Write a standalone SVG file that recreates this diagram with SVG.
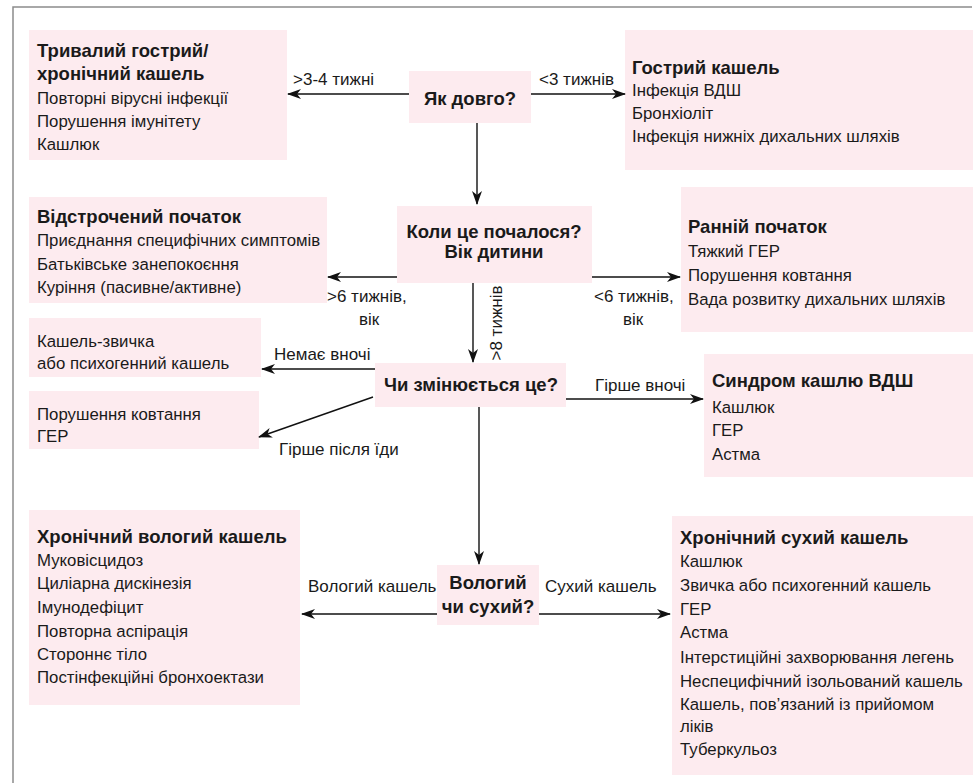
<svg xmlns="http://www.w3.org/2000/svg" width="977" height="783" viewBox="0 0 977 783">
<defs>
<marker id="ah" markerWidth="14" markerHeight="10" refX="13" refY="5" orient="auto" markerUnits="userSpaceOnUse">
<path d="M0,0 L14,5 L0,10 L4,5 z" fill="#111"/>
</marker>
<style>
.box{fill:#fdebef}
text{font-family:"Liberation Sans",Arial,sans-serif;font-size:16.8px;fill:#1a1a1a}
.b{font-weight:bold;font-size:18.5px}
.c{text-anchor:middle}
.lb{font-size:17px}
.ln{stroke:#111;stroke-width:1.4;fill:none;marker-end:url(#ah)}
.frame{stroke:#8c8c8c;stroke-width:1.5;fill:none}
</style>
</defs>
<rect width="977" height="783" fill="#fff"/>
<path class="frame" d="M13,783 L13,7 L972,7"/>

<g id="n-long">
<rect class="box" x="29" y="30" width="258" height="130"/>
<text x="37" y="57" class="b">Тривалий гострий/</text>
<text x="37" y="80" class="b">хронічний кашель</text>
<text x="37" y="104">Повторні вірусні інфекції</text>
<text x="37" y="127">Порушення імунітету</text>
<text x="37" y="150">Кашлюк</text>
</g>
<g id="n-howlong">
<rect class="box" x="409" y="71" width="122" height="52"/>
<text x="470" y="105" class="b c">Як довго?</text>
</g>
<g id="n-acute">
<rect class="box" x="625" y="30" width="348" height="140"/>
<text x="632" y="74" class="b">Гострий кашель</text>
<text x="632" y="96">Інфекція ВДШ</text>
<text x="632" y="119">Бронхіоліт</text>
<text x="632" y="142">Інфекція нижніх дихальних шляхів</text>
</g>
<g id="n-delayed">
<rect class="box" x="29" y="197" width="298" height="106"/>
<text x="37" y="223" class="b">Відстрочений початок</text>
<text x="37" y="246">Приєднання специфічних симптомів</text>
<text x="37" y="270">Батьківське занепокоєння</text>
<text x="37" y="293">Куріння (пасивне/активне)</text>
</g>
<g id="n-when">
<rect class="box" x="397" y="206" width="195" height="77"/>
<text x="494" y="238" class="b c">Коли це почалося?</text>
<text x="494" y="258" class="b c">Вік дитини</text>
</g>
<g id="n-early">
<rect class="box" x="681" y="187" width="292" height="145"/>
<text x="688" y="233" class="b">Ранній початок</text>
<text x="688" y="257">Тяжкий ГЕР</text>
<text x="688" y="281">Порушення ковтання</text>
<text x="688" y="305">Вада розвитку дихальних шляхів</text>
</g>
<g id="n-habit">
<rect class="box" x="29" y="318" width="232" height="59"/>
<text x="37" y="347">Кашель-звичка</text>
<text x="37" y="369">або психогенний кашель</text>
</g>
<g id="n-swallow">
<rect class="box" x="29" y="391" width="230" height="58"/>
<text x="37" y="420">Порушення ковтання</text>
<text x="37" y="442">ГЕР</text>
</g>
<g id="n-change">
<rect class="box" x="375" y="363" width="191" height="44"/>
<text x="471" y="391" class="b c">Чи змінюється це?</text>
</g>
<g id="n-uacs">
<rect class="box" x="704" y="354" width="269" height="123"/>
<text x="712" y="387" class="b">Синдром кашлю ВДШ</text>
<text x="712" y="413">Кашлюк</text>
<text x="712" y="436">ГЕР</text>
<text x="712" y="460">Астма</text>
</g>
<g id="n-wet">
<rect class="box" x="29" y="510" width="271" height="195"/>
<text x="37" y="543" class="b">Хронічний вологий кашель</text>
<text x="37" y="566">Муковісцидоз</text>
<text x="37" y="589">Циліарна дискінезія</text>
<text x="37" y="613">Імунодефіцит</text>
<text x="37" y="637">Повторна аспірація</text>
<text x="37" y="660">Стороннє тіло</text>
<text x="37" y="683">Постінфекційні бронхоектази</text>
</g>
<g id="n-wetdry">
<rect class="box" x="437" y="565" width="102" height="60"/>
<text x="488" y="589" class="b c">Вологий</text>
<text x="488" y="613" class="b c">чи сухий?</text>
</g>
<g id="n-dry">
<rect class="box" x="672" y="516" width="301" height="259"/>
<text x="680" y="544" class="b">Хронічний сухий кашель</text>
<text x="680" y="567">Кашлюк</text>
<text x="680" y="591">Звичка або психогенний кашель</text>
<text x="680" y="615">ГЕР</text>
<text x="680" y="638">Астма</text>
<text x="680" y="663">Інтерстиційні захворювання легень</text>
<text x="680" y="687">Неспецифічний ізольований кашель</text>
<text x="680" y="710">Кашель, пов’язаний із прийомом</text>
<text x="680" y="732">ліків</text>
<text x="680" y="755">Туберкульоз</text>
</g>

<g id="connectors">
<line class="ln" x1="409" y1="94" x2="288" y2="94"/>
<line class="ln" x1="531" y1="94" x2="625" y2="94"/>
<line class="ln" x1="477" y1="123" x2="477" y2="204"/>
<line class="ln" x1="397" y1="277" x2="328" y2="277"/>
<line class="ln" x1="592" y1="277" x2="680" y2="277"/>
<line class="ln" x1="473" y1="283" x2="473" y2="362"/>
<line class="ln" x1="375" y1="369" x2="262" y2="369"/>
<line class="ln" x1="373" y1="397" x2="259" y2="437"/>
<line class="ln" x1="566" y1="399" x2="703" y2="399"/>
<line class="ln" x1="479" y1="407" x2="479" y2="564"/>
<line class="ln" x1="437" y1="614" x2="302" y2="614"/>
<line class="ln" x1="539" y1="614" x2="670" y2="614"/>
<text class="lb" x="293" y="85">&gt;3-4 тижні</text>
<text class="lb" x="539" y="85">&lt;3 тижнів</text>
<text class="lb" x="327" y="302">&gt;6 тижнів,</text>
<text class="lb c" x="369" y="325">вік</text>
<text class="lb" x="594" y="302">&lt;6 тижнів,</text>
<text class="lb c" x="633" y="325">вік</text>
<text class="lb c" transform="translate(502,323) rotate(-90)">&gt;8 тижнів</text>
<text class="lb" x="274" y="360">Немає вночі</text>
<text class="lb" x="279" y="455">Гірше після їди</text>
<text class="lb" x="595" y="391">Гірше вночі</text>
<text class="lb" x="308" y="592">Вологий кашель</text>
<text class="lb" x="545" y="592">Сухий кашель</text>
</g>
</svg>
